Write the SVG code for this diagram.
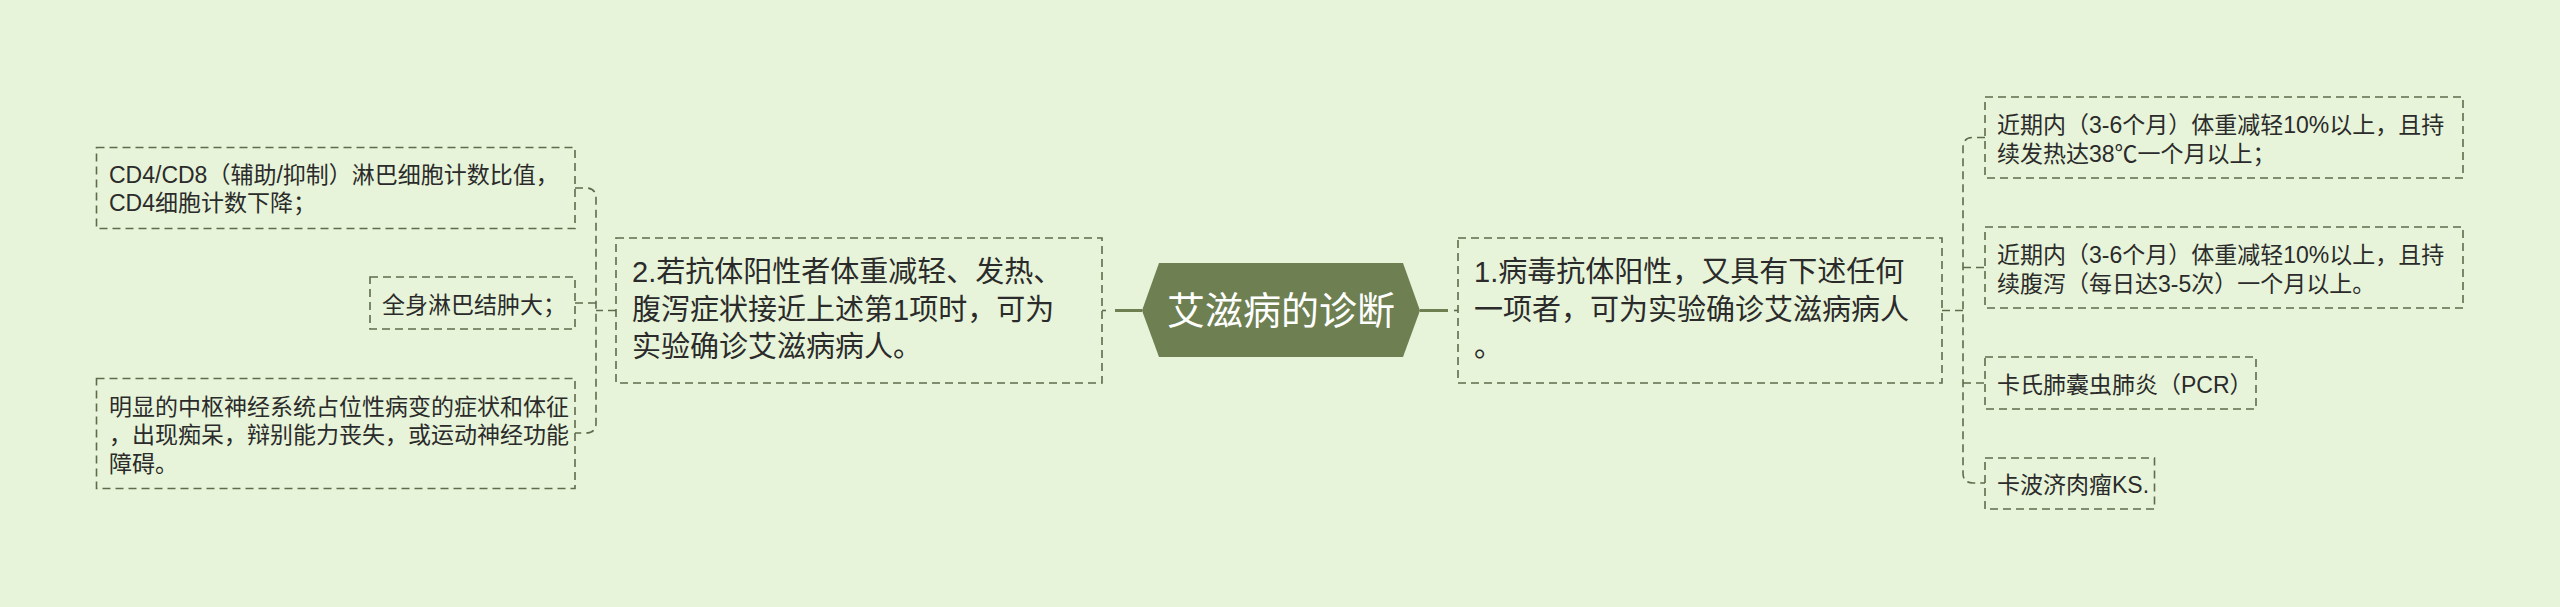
<svg xmlns="http://www.w3.org/2000/svg" width="2560" height="607" viewBox="0 0 2560 607">
<style>
.bg{fill:#e7f4d9}
.box{fill:none;stroke:#5f6b4b;stroke-width:1.6;stroke-dasharray:8 5}
.con{fill:none;stroke:#5f6b4b;stroke-width:1.6;stroke-dasharray:8 5}
.main{fill:none;stroke:#6e7f52;stroke-width:3}
.t{font-family:"Liberation Sans","Noto Sans CJK SC",sans-serif;fill:#2b2b2b}
.c{font-size:23px}
.n{font-size:29px}
.r{font-size:38px;fill:#ffffff;text-anchor:middle}
</style>
<rect class="bg" x="0" y="0" width="2560" height="607"/>
<g id="connectors">
<path class="main" d="M1115 310.5H1142"/>
<path class="main" d="M1420 310.5H1448"/>
<path class="con" d="M1102 310.5H1106"/>
<path class="con" d="M1454 310.5H1458"/>
<path class="con" d="M616 310.5H596"/>
<path class="con" d="M575 188H586Q596 188 596 198V423Q596 433 586 433H575"/>
<path class="con" d="M575 303H596"/>
<path class="con" d="M1942 310.5H1963"/>
<path class="con" d="M1985 137.5H1973Q1963 137.5 1963 147.5V473Q1963 483 1973 483H1985"/>
<path class="con" d="M1963 267.5H1985"/>
<path class="con" d="M1963 383H1985"/>
</g>
<g id="root">
<polygon points="1142,310.5 1159,263 1403,263 1420,310.5 1403,357 1159,357" fill="#6e7f52"/>
<text class="t r" x="1281" y="324">艾滋病的诊断</text>
</g>
<g id="node-2">
<rect class="box" x="616" y="238" width="486" height="145"/>
<text class="t n" x="632" y="282">2.若抗体阳性者体重减轻、发热、</text>
<text class="t n" x="632" y="319.5">腹泻症状接近上述第1项时，可为</text>
<text class="t n" x="632" y="357">实验确诊艾滋病病人。</text>
</g>
<g id="node-1">
<rect class="box" x="1458" y="238" width="484" height="145"/>
<text class="t n" x="1474" y="282">1.病毒抗体阳性，又具有下述任何</text>
<text class="t n" x="1474" y="319.5">一项者，可为实验确诊艾滋病病人</text>
<text class="t n" x="1474" y="357">。</text>
</g>
<g id="left-1">
<rect class="box" x="96.5" y="147.5" width="478.5" height="81"/>
<text class="t c" x="109" y="183">CD4/CD8（辅助/抑制）淋巴细胞计数比值，</text>
<text class="t c" x="109" y="211">CD4细胞计数下降；</text>
</g>
<g id="left-2">
<rect class="box" x="370" y="277" width="205" height="52"/>
<text class="t c" x="382" y="313">全身淋巴结肿大；</text>
</g>
<g id="left-3">
<rect class="box" x="96.5" y="378.5" width="478.5" height="110"/>
<text class="t c" x="109" y="414.5">明显的中枢神经系统占位性病变的症状和体征</text>
<text class="t c" x="109" y="443">，出现痴呆，辩别能力丧失，或运动神经功能</text>
<text class="t c" x="109" y="471.5">障碍。</text>
</g>
<g id="right-1">
<rect class="box" x="1985" y="97" width="478" height="81"/>
<text class="t c" x="1997" y="133">近期内（3-6个月）体重减轻10%以上，且持</text>
<text class="t c" x="1997" y="161.5">续发热达38℃一个月以上；</text>
</g>
<g id="right-2">
<rect class="box" x="1985" y="227" width="478" height="81"/>
<text class="t c" x="1997" y="263">近期内（3-6个月）体重减轻10%以上，且持</text>
<text class="t c" x="1997" y="291.5">续腹泻（每日达3-5次）一个月以上。</text>
</g>
<g id="right-3">
<rect class="box" x="1985" y="357" width="271" height="52"/>
<text class="t c" x="1997" y="393">卡氏肺囊虫肺炎（PCR）</text>
</g>
<g id="right-4">
<rect class="box" x="1985" y="458" width="169.5" height="51"/>
<text class="t c" x="1997" y="493">卡波济肉瘤KS.</text>
</g>
</svg>
